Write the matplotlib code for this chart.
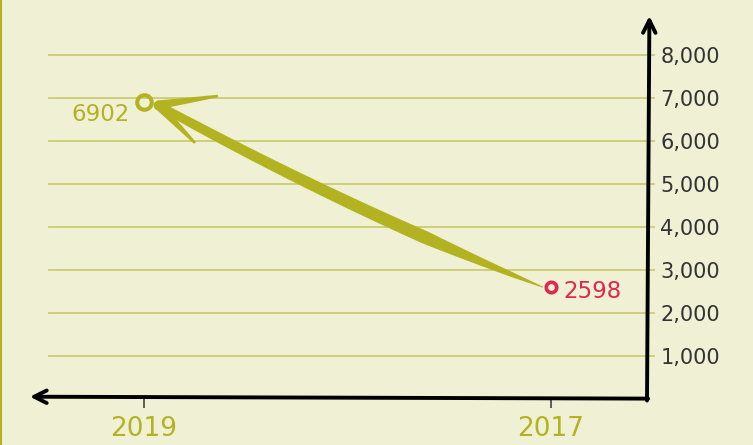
import numpy as np
import matplotlib
matplotlib.use("Agg")
import matplotlib.pyplot as plt
from matplotlib.lines import Line2D
from matplotlib.patches import Polygon

# data
years = [2019, 2017]
values = [6902, 2598]
point_colors = ["#b3b322", "#e0284f"]
yticks = [1000, 2000, 3000, 4000, 5000, 6000, 7000, 8000]

bg = "#f0f0d4"
olive = "#b3b322"
grid_c = "#cccc70"

fig = plt.figure(figsize=(7.53, 4.45), dpi=100, facecolor=bg)
ax = fig.add_axes([49 / 753, 46 / 445, 598 / 753, 383 / 445])
ax.set_facecolor(bg)
ax.set_xlim(2019.467, 2016.528)
ax.set_ylim(0, 8900)
for s in ax.spines.values():
    s.set_visible(False)

# thin border on the left edge
fig.add_artist(Line2D([0.0015, 0.0015], [0, 1], color=olive, lw=1.5))

# gridlines, running a little past the y axis
for y in yticks:
    ax.axhline(y, xmin=0, xmax=1.012, color=grid_c, lw=1.3, clip_on=False, zorder=1)

# ticks
ax.yaxis.tick_right()
ax.set_yticks(yticks)
ax.set_yticklabels([f"{v:,}" for v in yticks])
ax.tick_params(axis="y", length=0, pad=9.5, labelsize=15, labelcolor="#333333")
ax.set_xticks(years)
ax.set_xticklabels([str(y) for y in years])
ax.tick_params(axis="x", length=6.5, width=1.2, color="#444444", pad=6,
               labelsize=19, labelcolor=olive)

# axes drawn as arrows
ax.annotate("", xy=(1.004, 1.0), xytext=(1.0, -0.004), xycoords="axes fraction",
            arrowprops=dict(arrowstyle="->,head_length=0.9,head_width=0.45",
                            lw=2.8, color="black", shrinkA=0, shrinkB=0))
ax.annotate("", xy=(-0.032, 0.006), xytext=(1.002, 0.001), xycoords="axes fraction",
            arrowprops=dict(arrowstyle="->,head_length=0.9,head_width=0.45",
                            lw=2.8, color="black", shrinkA=0, shrinkB=0))

# big tapered arrow from the 2017 point to the 2019 point (display pixels)
inv = ax.transData.inverted()
p_new = ax.transData.transform((years[0], values[0]))
p_old = ax.transData.transform((years[1], values[1]))
start = p_old + np.array([-8.0, 0.0])
tip = p_new + np.array([14.0, -3.0])
mid = (start + tip) / 2
ctrl = mid + np.array([-5.0, -12.0])
t = np.linspace(0, 1, 80)
curve = ((1 - t) ** 2)[:, None] * start + (2 * (1 - t) * t)[:, None] * ctrl + (t ** 2)[:, None] * tip
d = np.gradient(curve, axis=0)
d /= np.linalg.norm(d, axis=1)[:, None]
n = np.column_stack([-d[:, 1], d[:, 0]])
w = np.interp(t, [0, 0.08, 0.3, 0.6, 0.9, 1.0], [1, 5, 13, 11.5, 9.5, 8])
left = curve + n * w[:, None] / 2
right = curve - n * w[:, None] / 2
shaft = np.vstack([left, right[::-1]])
ax.add_patch(Polygon(inv.transform(shaft), closed=True, color=olive, lw=0, zorder=3, clip_on=False))

def barb(end, w0, w1):
    v = end - tip
    v = v / np.linalg.norm(v)
    nn = np.array([-v[1], v[0]])
    pts = np.array([tip + nn * w0 / 2, end + nn * w1 / 2, end - nn * w1 / 2, tip - nn * w0 / 2])
    ax.add_patch(Polygon(inv.transform(pts), closed=True, color=olive, lw=0, zorder=3, clip_on=False))

barb(tip + np.array([60.0, 9.0]), 9, 2.5)
barb(tip + np.array([37.0, -38.0]), 9, 2.5)
ax.plot(*inv.transform(tip[None, :]).T, "o", color=olive, ms=6, zorder=3)

# points
ax.plot(years[0], values[0], "o", mfc="none", mec=point_colors[0], ms=10.5, mew=2.9, zorder=4)
ax.plot(years[1], values[1], "o", mfc="none", mec=point_colors[1], ms=7.5, mew=2.6, zorder=4)

# value labels
ax.annotate(str(values[0]), xy=(years[0], values[0]), xytext=(-14, -13),
            textcoords="offset pixels", ha="right", va="center", fontsize=16.5, color=point_colors[0])
ax.annotate(str(values[1]), xy=(years[1], values[1]), xytext=(12, -4),
            textcoords="offset pixels", ha="left", va="center", fontsize=16.5, color=point_colors[1])

fig.savefig("out.png", dpi=100, facecolor=bg)
